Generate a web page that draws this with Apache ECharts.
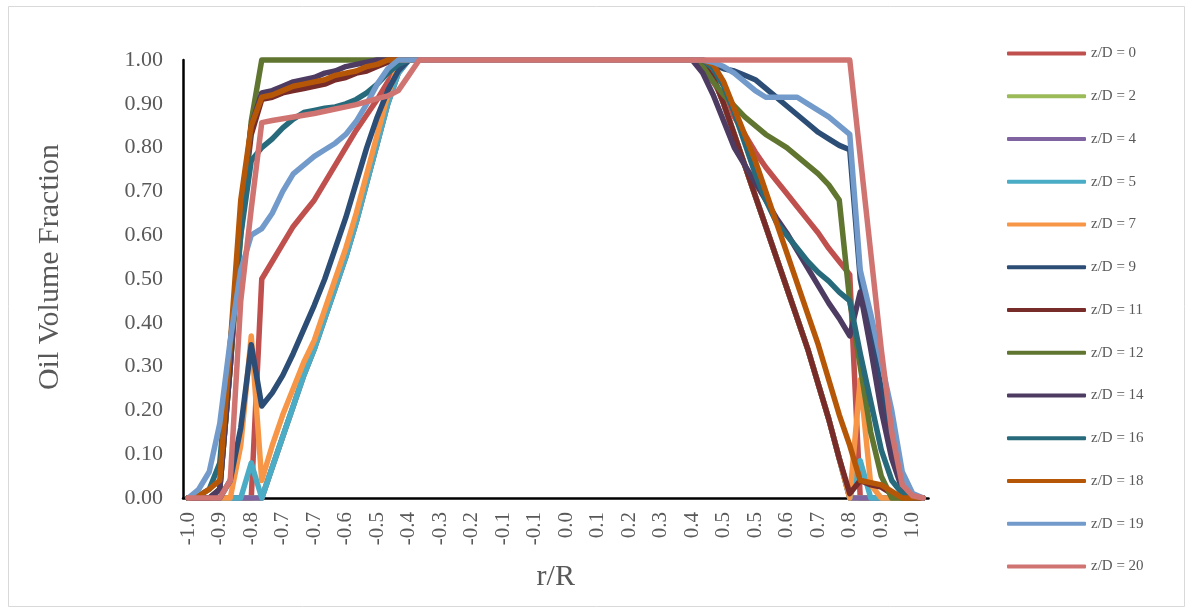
<!DOCTYPE html>
<html>
<head>
<meta charset="utf-8">
<script src="https://cdn.jsdelivr.net/npm/echarts@6/dist/echarts.min.js"></script>
<style>
html,body{margin:0;padding:0;background:#fff;}
#chart{width:1192px;height:613px;}
</style>
</head>
<body>
<div id="chart"></div>
<script>
// r/R sample positions (category axis)
const rR = [-1.000,-0.971,-0.943,-0.914,-0.886,-0.857,-0.829,-0.800,-0.771,-0.743,
  -0.714,-0.686,-0.657,-0.629,-0.600,-0.571,-0.543,-0.514,-0.486,-0.457,
  -0.429,-0.400,-0.371,-0.343,-0.314,-0.286,-0.257,-0.229,-0.200,-0.171,
  -0.143,-0.114,-0.086,-0.057,-0.029,0.000,0.029,0.057,0.086,0.114,
  0.143,0.171,0.200,0.229,0.257,0.286,0.314,0.343,0.371,0.400,
  0.429,0.457,0.486,0.514,0.543,0.571,0.600,0.629,0.657,0.686,
  0.714,0.743,0.771,0.800,0.829,0.857,0.886,0.914,0.943,0.971,1.000];

const seriesNames = ['z/D = 0','z/D = 2','z/D = 4','z/D = 5','z/D = 7','z/D = 9','z/D = 11','z/D = 12','z/D = 14','z/D = 16','z/D = 18','z/D = 19','z/D = 20'];

const zd0 = [0,0,0,0,0,0,0,
  0.50,0.54,0.58,0.62,0.65,0.68,0.72,0.76,0.80,0.84,0.875,0.91,0.95,0.985,1.0,
  1,1,1,1,1,1,1,1,1,1,1,1,1,1,1,1,1,1,1,1,1,1,1,1,1,1,
  1.0,0.985,0.95,0.91,0.87,0.83,0.79,0.755,0.725,0.695,0.665,0.635,0.605,0.57,0.54,0.51,
  0,0,0,0,0,0,0];
const zd2 = [0,0,0,0,0,0,0,0,
  0.07,0.14,0.21,0.28,0.34,0.41,0.48,0.55,0.63,0.72,0.81,0.90,0.97,1.0,
  1,1,1,1,1,1,1,1,1,1,1,1,1,1,1,1,1,1,1,1,1,1,1,1,1,1,
  1.0,0.99,0.96,0.90,0.83,0.76,0.69,0.62,0.55,0.48,0.41,0.34,0.26,0.18,0.09,0.0,
  0,0,0,0,0,0,0];
const zd4 = [0,0,0,0,0,0,0,0,
  0.07,0.14,0.21,0.28,0.34,0.41,0.48,0.55,0.63,0.72,0.81,0.90,0.97,1.0,
  1,1,1,1,1,1,1,1,1,1,1,1,1,1,1,1,1,1,1,1,1,1,1,1,1,1,
  1.0,0.99,0.96,0.90,0.83,0.76,0.69,0.62,0.55,0.48,0.41,0.34,0.26,0.18,0.09,0.0,
  0,0,0,0,0,0,0];
const zd5 = [0,0,0,0,0,0,0.08,0,
  0.07,0.14,0.21,0.28,0.34,0.41,0.48,0.55,0.63,0.72,0.81,0.90,0.97,1.0,
  1,1,1,1,1,1,1,1,1,1,1,1,1,1,1,1,1,1,1,1,1,1,1,1,1,1,
  1.0,0.99,0.96,0.90,0.83,0.76,0.69,0.62,0.55,0.48,0.41,0.34,0.26,0.18,0.09,0.0,
  0.085,0,0,0,0,0,0];
const zd7 = [0,0,0,0,0,0.12,0.37,0.04,
  0.12,0.19,0.25,0.31,0.36,0.43,0.50,0.57,0.65,0.74,0.83,0.92,0.99,1.0,
  1,1,1,1,1,1,1,1,1,1,1,1,1,1,1,1,1,1,1,1,1,1,1,1,1,1,
  1.0,0.99,0.96,0.90,0.83,0.76,0.69,0.62,0.55,0.48,0.41,0.34,0.26,0.18,0.09,0.0,
  0.27,0.03,0,0,0,0,0];
const zd9 = [0,0,0,0,0.04,0.16,0.35,0.21,
  0.24,0.28,0.33,0.385,0.44,0.50,0.57,0.64,0.72,0.80,0.87,0.93,0.975,1.0,
  1,1,1,1,1,1,1,1,1,1,1,1,1,1,1,1,1,1,1,1,1,1,1,1,1,1,
  1.0,0.998,0.99,0.98,0.975,0.965,0.955,0.935,0.915,0.895,0.875,0.855,0.835,0.82,0.805,0.795,
  0.5,0.38,0.25,0.12,0.03,0,0];
const zd11 = [0,0,0,0.02,0.3,0.63,0.83,0.91,
  0.915,0.925,0.93,0.935,0.94,0.945,0.955,0.96,0.97,0.975,0.985,0.995,1.0,
  1,1,1,1,1,1,1,1,1,1,1,1,1,1,1,1,1,1,1,1,1,1,1,1,1,1,1,
  1.0,0.99,0.96,0.90,0.83,0.76,0.69,0.62,0.55,0.48,0.41,0.34,0.26,0.18,0.09,0.01,
  0.04,0.03,0.025,0.01,0,0,0];
const zd12 = [0,0,0,0.02,0.3,0.6,0.86,
  1,1,1,1,1,1,1,1,1,1,1,1,1,1,1,1,1,1,1,1,1,1,1,1,1,1,1,1,1,1,1,1,1,1,1,1,1,1,1,1,1,1,
  0.985,0.95,0.92,0.895,0.87,0.85,0.83,0.815,0.80,0.78,0.76,0.74,0.715,0.68,
  0.45,0.3,0.15,0.05,0,0,0];
const zd14 = [0,0,0,0.02,0.3,0.65,0.85,0.925,
  0.93,0.94,0.95,0.955,0.96,0.97,0.975,0.985,0.99,0.995,1.0,
  1,1,1,1,1,1,1,1,1,1,1,1,1,1,1,1,1,1,1,1,1,1,1,1,1,1,1,1,1,
  1.0,0.97,0.92,0.86,0.80,0.76,0.72,0.68,0.64,0.605,0.565,0.525,0.485,0.445,0.41,0.37,
  0.47,0.34,0.2,0.09,0.02,0,0];
const zd16 = [0,0.005,0.02,0.08,0.35,0.6,0.77,
  0.80,0.82,0.845,0.865,0.88,0.885,0.89,0.893,0.90,0.91,0.925,0.945,0.97,0.99,1.0,
  1,1,1,1,1,1,1,1,1,1,1,1,1,1,1,1,1,1,1,1,1,1,1,1,1,1,1,
  1.0,0.98,0.94,0.88,0.81,0.74,0.68,0.63,0.60,0.57,0.54,0.515,0.495,0.47,0.45,
  0.33,0.22,0.11,0.04,0.01,0,0];
const zd18 = [0,0.005,0.02,0.04,0.35,0.68,0.85,0.915,
  0.92,0.93,0.94,0.945,0.95,0.955,0.965,0.97,0.975,0.985,0.99,1.0,
  1,1,1,1,1,1,1,1,1,1,1,1,1,1,1,1,1,1,1,1,1,1,1,1,1,1,1,1,1,
  1.0,0.99,0.95,0.89,0.83,0.77,0.70,0.63,0.56,0.49,0.42,0.35,0.27,0.19,0.12,
  0.04,0.035,0.03,0.015,0,0,0];
const zd19 = [0,0.02,0.06,0.17,0.36,0.52,0.60,
  0.615,0.65,0.70,0.74,0.76,0.78,0.795,0.81,0.83,0.86,0.90,0.945,0.98,1.0,
  1,1,1,1,1,1,1,1,1,1,1,1,1,1,1,1,1,1,1,1,1,1,1,1,1,1,1,1,
  1.0,0.995,0.985,0.97,0.95,0.93,0.915,0.915,0.915,0.915,0.90,0.885,0.87,0.85,0.83,
  0.52,0.42,0.31,0.2,0.06,0.01,0];
const zd20 = [0,0,0,0,0.04,0.45,0.66,
  0.857,0.862,0.866,0.87,0.874,0.878,0.883,0.888,0.893,0.898,0.905,0.912,0.918,0.93,0.965,1.0,
  1,1,1,1,1,1,1,1,1,1,1,1,1,1,1,1,1,1,1,1,1,1,1,1,1,1,1,1,1,1,1,1,1,1,1,1,1,1,1,1,1,
  0.78,0.56,0.34,0.15,0.03,0.005,0];

const yTicks = [0,0.1,0.2,0.3,0.4,0.5,0.6,0.7,0.8,0.9,1.0];

const seriesData = [zd0,zd2,zd4,zd5,zd7,zd9,zd11,zd12,zd14,zd16,zd18,zd19,zd20];
const colors = ['#C0504D','#9BBB59','#8064A2','#4BACC6','#F79646','#2C4D75','#772C2A','#5F7530','#4D3B62','#276A7C','#B65708','#729ACA','#D07472'];

const FONT = '"Liberation Serif","Times New Roman",serif';
const chart = echarts.init(document.getElementById('chart'), null, {renderer:'canvas'});
chart.setOption({
  animation:false,
  backgroundColor:'#ffffff',
  color:colors,
  graphic:[{type:'rect',shape:{x:8.5,y:6.5,width:1176,height:600},style:{fill:'none',stroke:'#d9d9d9',lineWidth:1},silent:true,z:-1}],
  grid:{left:183,top:60,width:745.5,height:438,containLabel:false},
  legend:{
    orient:'vertical',left:1002,top:41,
    icon:'roundRect',itemWidth:79,itemHeight:4,itemGap:27.75,
    textStyle:{fontFamily:FONT,fontSize:15,color:'#595959',lineHeight:15},
    data:seriesNames
  },
  xAxis:{
    type:'category',data:rR,boundaryGap:true,
    name:'r/R',nameLocation:'middle',nameGap:64,
    nameTextStyle:{fontFamily:FONT,fontSize:30,color:'#595959'},
    axisLine:{lineStyle:{color:'#000',width:2.5}},
    axisTick:{show:false},
    axisLabel:{interval:2,rotate:90,margin:14,fontFamily:FONT,fontSize:21,color:'#595959',
      formatter:function(v){return Number(v).toFixed(1);}},
    splitLine:{show:false}
  },
  yAxis:{
    type:'value',min:0,max:1,interval:0.1,
    name:'Oil Volume Fraction',nameLocation:'middle',nameGap:118,
    nameTextStyle:{fontFamily:FONT,fontSize:30,color:'#595959',padding:[0,0,0,24]},
    axisLine:{show:true,lineStyle:{color:'#000',width:2.5}},
    axisTick:{show:false},
    axisLabel:{margin:20,fontFamily:FONT,fontSize:22,color:'#595959',
      formatter:function(v){return v.toFixed(2);}},
    splitLine:{show:false}
  },
  series:seriesNames.map(function(n,k){
    return {name:n,type:'line',data:seriesData[k],symbol:'none',clip:false,smooth:false,
      lineStyle:{width:5.5,color:colors[k],cap:'round',join:'round'},
      itemStyle:{color:colors[k]}};
  })
});
</script>
</body>
</html>
